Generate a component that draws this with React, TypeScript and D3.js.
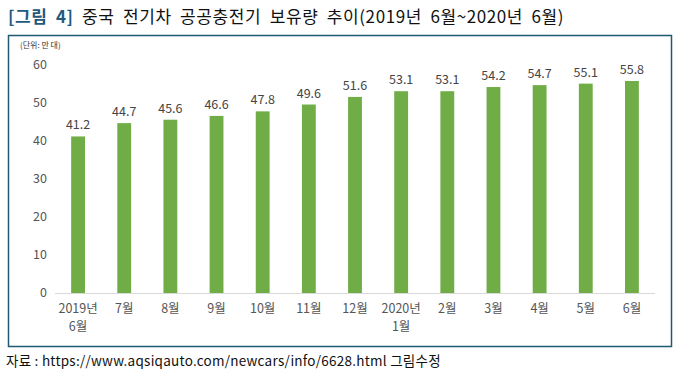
import React from "react";
import * as d3 from "d3";

const categories: string[][] = [
  ["2019년", "6월"], ["7월"], ["8월"], ["9월"], ["10월"], ["11월"], ["12월"],
  ["2020년", "1월"], ["2월"], ["3월"], ["4월"], ["5월"], ["6월"],
];
const values: number[] = [41.2, 44.7, 45.6, 46.6, 47.8, 49.6, 51.6, 53.1, 53.1, 54.2, 54.7, 55.1, 55.8];
const yTicks: number[] = [0, 10, 20, 30, 40, 50, 60];

const FONT = "'Noto Sans CJK KR', 'Noto Sans', sans-serif";

export default function App() {
  const W = 680, H = 383;
  const x = d3.scaleBand<number>().domain(d3.range(values.length)).range([55, 655]).paddingInner(0.7).paddingOuter(0.35);
  const y = d3.scaleLinear().domain([0, 60]).range([293, 65]);
  return (
    <svg width={W} height={H} style={{ position: "absolute", left: 0, top: 0, background: "#fff" }} fontFamily={FONT}>
      <text x={8} y={23} fontSize={17} letterSpacing={0.6} wordSpacing={4}>
        <tspan fill="#1f5a80" fontWeight="bold">[그림 4]</tspan>
        <tspan fill="#111"> 중국 전기차 공공충전기 보유량 추이(2019년 6월~2020년 6월)</tspan>
      </text>
      <rect x={8.5} y={35.5} width={663} height={311} fill="none" stroke="#1f5a70" strokeWidth={1.5} />
      <text x={20} y={48} fontSize={8} fill="#333">(단위: 만 대)</text>
      {yTicks.map((t) => (
        <text key={t} x={47} y={y(t)} dy="0.35em" textAnchor="end" fontSize={12.5} fill="#555">{t}</text>
      ))}
      <line x1={55} x2={655} y1={y(0) + 0.5} y2={y(0) + 0.5} stroke="#d9d9d9" />
      {values.map((v, i) => (
        <g key={i}>
          <rect x={x(i)} y={y(v)} width={x.bandwidth()} height={y(0) - y(v)} fill="#70ad47" />
          <text x={(x(i) ?? 0) + x.bandwidth() / 2} y={y(v) - 7} textAnchor="middle" fontSize={12.5} fill="#444">{v.toFixed(1)}</text>
        </g>
      ))}
      {categories.map((c, i) => (
        <text key={i} x={(x(i) ?? 0) + x.bandwidth() / 2} y={313} textAnchor="middle" fontSize={12.5} fill="#555">
          {c.map((s, j) => (
            <tspan key={j} x={(x(i) ?? 0) + x.bandwidth() / 2} dy={j === 0 ? 0 : 18}>{s}</tspan>
          ))}
        </text>
      ))}
      <text x={6} y={366} fontSize={13.5} letterSpacing={0.25} fill="#111">자료 : https://www.aqsiqauto.com/newcars/info/6628.html  그림수정</text>
    </svg>
  );
}
